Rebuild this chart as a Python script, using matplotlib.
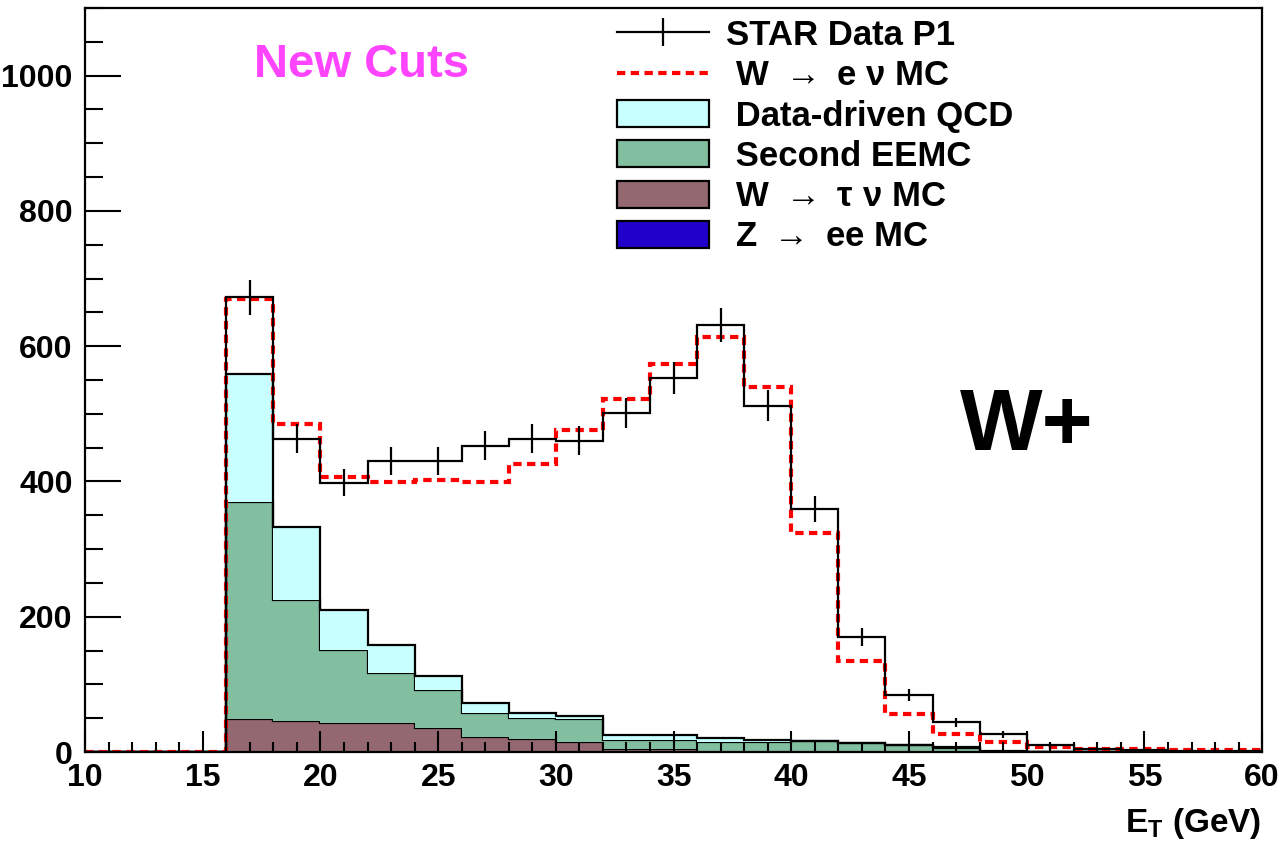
import numpy as np
import matplotlib
matplotlib.use("Agg")
import matplotlib.pyplot as plt
from matplotlib.patches import Patch
from matplotlib.lines import Line2D
from matplotlib.ticker import MultipleLocator

plt.rcParams['font.family'] = ['Liberation Sans', 'DejaVu Sans']
plt.rcParams['font.weight'] = 'bold'
plt.rcParams['mathtext.fontset'] = 'custom'
plt.rcParams['mathtext.rm'] = 'Liberation Sans:bold'
plt.rcParams['mathtext.bf'] = 'Liberation Sans:bold'

# bin edges in E_T (GeV), 2 GeV bins
edges = np.arange(10, 62, 2)

# STAR data P1
data = [0, 0, 0, 672, 463, 398, 430, 430, 453, 463, 460, 501, 553,
        632, 512, 359, 170, 84, 44, 26, 10, 5, 3, 2, 2]
# W -> e nu MC
wenu = [0, 0, 0, 670, 485, 407, 399, 402, 399, 426, 476, 522, 574,
        614, 540, 324, 135, 56, 27, 15, 8, 5, 4, 3, 3]
# stacked backgrounds (bottom to top)
zee = [0, 0, 0, 2, 2, 2, 2, 2, 2, 0.5, 1.5, 1, 1,
       1, 0.5, 0.5, 0.5, 0.3, 0.2, 0, 0, 0, 0, 0, 0]
wtau = [0, 0, 0, 47, 44, 41, 41, 33, 20, 18.5, 13.5, 3.5, 3.5,
        0.5, 0.5, 0.5, 0.5, 0.2, 0.1, 0, 0, 0, 0, 0, 0]
eemc = [0, 0, 0, 321, 179, 108, 74, 57, 35, 31, 34, 13.5, 13.5,
        13.5, 14, 15, 12, 9.5, 5.7, 0.5, 0, 0, 0, 0, 0]
qcd = [0, 0, 0, 189, 108, 59, 41, 20, 15, 7, 4, 7, 7,
       6, 3, 1, 1, 1, 1, 0.5, 0.3, 0, 0, 0, 0]

stack = [(zee, '#2200cc', 'Z $\\rightarrow$ ee MC'),
         (wtau, '#946870', 'W $\\rightarrow$ \u03c4 \u03bd MC'),
         (eemc, '#82bfa0', 'Second EEMC'),
         (qcd, '#c8ffff', 'Data-driven QCD')]

fig = plt.figure(figsize=(12.84, 8.51), dpi=100)
ax = fig.add_axes([0.0662, 0.1163, 0.9168, 0.8743])

bottom = np.zeros(len(edges) - 1)
for vals, col, lab in stack:
    top = bottom + np.array(vals)
    ax.stairs(top, edges, baseline=bottom, fill=True, facecolor=col,
              edgecolor='none')
    ax.stairs(top, edges, baseline=None, color='k', lw=1.6)
    bottom = top

ax.stairs(wenu, edges, baseline=None, color='red', lw=3,
          linestyle=(0, (2, 1.3)))

data = np.array(data, dtype=float)
centers = 0.5 * (edges[:-1] + edges[1:])
ax.stairs(data, edges, baseline=None, color='k', lw=1.6)
nz = data > 0
ax.errorbar(centers[nz], data[nz], yerr=np.sqrt(data[nz]), fmt='none',
            ecolor='k', elinewidth=1.6)

ax.set_xlim(10, 60)
ax.set_ylim(0, 1100)
ax.xaxis.set_major_locator(MultipleLocator(5))
ax.xaxis.set_minor_locator(MultipleLocator(1))
ax.yaxis.set_major_locator(MultipleLocator(200))
ax.yaxis.set_minor_locator(MultipleLocator(50))
ax.tick_params(axis='y', which='major', direction='in', length=26, width=1.5,
               labelsize=23, pad=9)
ax.tick_params(axis='y', which='minor', direction='in', length=13, width=1.5)
ax.tick_params(axis='x', which='major', direction='in', length=15, width=1.5,
               labelsize=23, pad=8)
ax.tick_params(axis='x', which='minor', direction='in', length=7, width=1.5)
for s in ax.spines.values():
    s.set_linewidth(1.6)

handles = [Line2D([], [], color='k', lw=1.6, marker='|', markersize=20,
                  markeredgewidth=1.6),
           Line2D([], [], color='red', lw=3, linestyle=(0, (2, 1.3)))]
labels = ['STAR Data P1', ' W $\\rightarrow$ e \u03bd MC']
for vals, col, lab in stack[::-1]:
    handles.append(Patch(facecolor=col, edgecolor='k', lw=1.6))
    labels.append(' ' + lab)

ax.legend(handles, labels, loc='upper left',
          bbox_to_anchor=(617 / 1284, 1 - 19 / 851),
          bbox_transform=fig.transFigure, frameon=False, fontsize=25,
          handlelength=2.65, handleheight=0.82, handletextpad=0.5,
          labelspacing=0.21, borderpad=0, borderaxespad=0)

fig.text(362 / 1284, 1 - 65 / 851, 'New Cuts', color='#ff44ff', fontsize=34,
         ha='center', va='center')
fig.text(1027 / 1284, 1 - 427 / 851, 'W+', color='k', fontsize=63,
         ha='center', va='center')
fig.text(1261 / 1284, 1 - 832 / 851, 'E$_\\mathrm{T}$ (GeV)', fontsize=24,
         ha='right', va='baseline')

fig.savefig('out.png', dpi=100)
